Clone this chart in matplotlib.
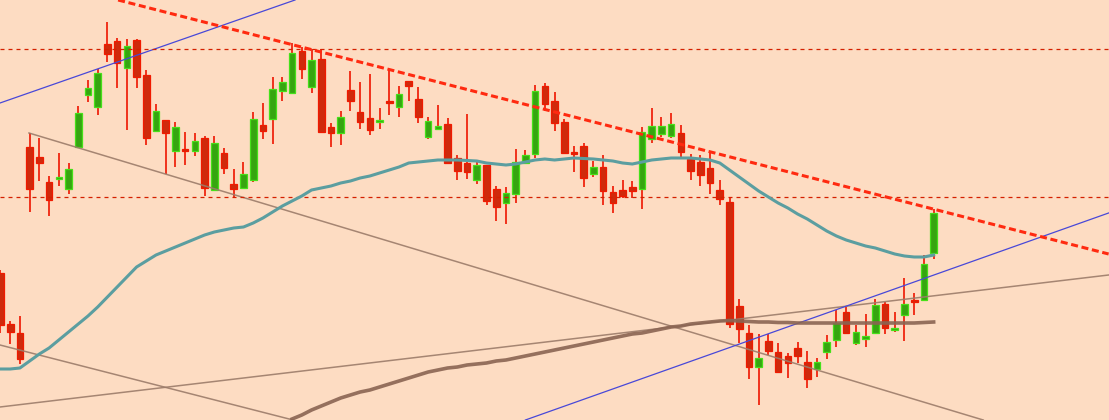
import numpy as np
import matplotlib
matplotlib.use("Agg")
import matplotlib.pyplot as plt

# candle prices (chart units)
opens = [147, 96, 87, 273, 263, 238, 241, 231, 273, 325, 313, 376, 379, 352, 380, 345, 289, 300, 269, 270,
         269, 282, 230, 267, 236, 232, 240, 295, 301, 329, 327, 369, 333, 361, 293, 287, 330, 308, 302, 298,
         318, 313, 339, 321, 283, 291, 296, 262, 257, 240, 255, 231, 217, 226, 257, 266, 334, 319, 298, 268,
         274, 246, 253, 228, 230, 233, 231, 281, 286, 284, 287, 261, 258, 252, 230, 218, 114, 87, 53, 79,
         68, 64, 72, 58, 51, 68, 80, 108, 77, 81, 87, 116, 90, 105, 120, 120, 167]
closes = [95, 88, 61, 231, 257, 220, 243, 251, 307, 332, 347, 366, 357, 374, 343, 282, 309, 287, 293, 269,
          279, 232, 277, 252, 231, 246, 301, 289, 331, 338, 367, 351, 360, 288, 287, 303, 319, 298, 290, 300,
          317, 326, 334, 303, 299, 294, 257, 249, 248, 255, 219, 213, 227, 258, 265, 329, 316, 297, 267, 266,
          242, 253, 229, 217, 224, 229, 288, 294, 294, 296, 268, 249, 245, 237, 221, 96, 91, 53, 62, 69,
          48, 57, 64, 41, 58, 78, 97, 87, 88, 84, 115, 92, 92, 116, 118, 156, 207]
highs = [150, 99, 104, 287, 282, 244, 267, 257, 314, 340, 351, 398, 382, 381, 381, 350, 316, 300, 298, 288,
         287, 284, 284, 272, 251, 258, 308, 317, 343, 343, 377, 373, 371, 371, 297, 309, 349, 338, 346, 312,
         351, 334, 339, 333, 303, 315, 302, 265, 306, 258, 255, 234, 233, 271, 270, 335, 337, 328, 301, 274,
         277, 259, 265, 234, 240, 239, 293, 312, 303, 307, 295, 266, 265, 268, 240, 223, 121, 95, 86, 86,
         77, 67, 78, 69, 62, 85, 110, 113, 95, 106, 121, 118, 108, 142, 127, 165, 211]
lows = [87, 76, 56, 208, 239, 204, 234, 226, 272, 318, 305, 358, 332, 290, 332, 275, 289, 246, 253, 255,
        264, 224, 229, 246, 223, 231, 238, 281, 276, 319, 326, 341, 327, 287, 273, 275, 309, 291, 285, 291,
        305, 303, 319, 297, 281, 290, 256, 240, 241, 236, 215, 199, 196, 217, 256, 262, 309, 289, 267, 248,
        233, 243, 215, 207, 222, 222, 211, 277, 283, 282, 263, 240, 234, 226, 215, 92, 77, 41, 15, 65,
        48, 42, 57, 32, 43, 61, 73, 86, 75, 73, 86, 86, 88, 79, 105, 120, 161]

# fast moving average (teal), one value per candle
ma_fast = [51, 51, 52, 59, 66, 72, 80, 88, 96, 104, 113, 123, 133, 143, 153, 159, 165, 169, 173, 177,
           181, 185, 188, 190, 192, 193, 197, 202, 208, 214, 219, 224, 230, 232, 234, 237, 239, 242, 244, 247,
           250, 253, 257, 258, 259, 260, 260, 260, 259.5, 259, 257, 256, 255, 256, 258, 260, 261, 260, 261, 262,
           261.5, 261, 260, 259, 257, 256, 258, 260, 261, 262, 262, 262, 261, 260, 257, 250, 243, 236, 229, 223,
           217, 212, 206, 201, 195, 189, 184, 180, 177, 174, 172, 169, 166, 164, 163, 163, 165]

# slow moving average (brown), starts at candle 30
ma_slow_start = 30
ma_slow = [1, 5, 10, 14, 18, 22, 25, 28, 30, 33, 36, 39, 42, 45, 48, 50, 52, 53, 55, 56,
           57, 59, 60, 62, 64, 66, 68, 70, 72, 74, 76, 78, 80, 82, 84, 86, 87, 89, 91, 93,
           94, 96, 97, 98, 99, 99.5, 99, 98.5, 98, 98, 97.5, 97.5, 97, 97, 97, 97, 97, 97, 97, 97,
           97, 97, 97, 97, 97, 97.5, 98]

# horizontal levels and trend lines (index, price pairs)
levels = [371, 223]
resistance = [(12.1, 420), (114.0, 166)]
channel_up_top = [(-0.05, 317), (30.3, 420)]
channel_up_bottom = [(54.0, 0), (114.0, 207)]
down_upper = [(2.93, 287), (101.1, 0)]
down_lower = [(-0.05, 75), (30.1, 0)]
rising = [(-0.05, 13), (114.0, 145)]

bg = '#fddcc2'
fig = plt.figure(figsize=(11.09, 4.2), dpi=100, facecolor=bg)
ax = fig.add_axes([0, 0, 1, 1])
ax.set_facecolor(bg)

x = np.arange(len(opens))
o = np.array(opens, dtype=float)
c = np.array(closes, dtype=float)
up = c >= o
bottoms = np.minimum(o, c)
heights = np.maximum(np.abs(c - o), 2.0)

ax.vlines(x, lows, highs, color='#ee1500', linewidth=1.2, zorder=2)
ax.bar(x[up], heights[up], bottom=bottoms[up], width=0.68,
       color='#36a510', edgecolor='#46e01a', linewidth=0.9, zorder=3)
ax.bar(x[~up], heights[~up], bottom=bottoms[~up], width=0.68,
       color='#cf2a0c', edgecolor='#f01a00', linewidth=0.9, zorder=3)


def seg(pts, **kw):
    (x0, y0), (x1, y1) = pts
    ax.plot([x0, x1], [y0, y1], **kw)


thin_gray = dict(color='#9c7c6a', linewidth=1.1, alpha=0.9, zorder=4)
seg(down_upper, **thin_gray)
seg(down_lower, **thin_gray)
seg(rising, **thin_gray)

seg(channel_up_top, color='#4848d8', linewidth=0.9, zorder=4)
seg(channel_up_bottom, color='#4848d8', linewidth=0.9, zorder=4)

ax.plot(x, ma_fast, color='#5b9ea0', linewidth=2.2, zorder=5)
xs = np.arange(ma_slow_start, ma_slow_start + len(ma_slow))
ax.plot(xs, ma_slow, color='#8a6452', linewidth=2.6, alpha=0.9, zorder=5)

for lv in levels:
    ax.axhline(lv, color='#d42000', linewidth=0.9, dashes=(3.2, 3.2), zorder=4)

seg(resistance, color='#ff2a10', linewidth=2.2, dashes=(2.3, 1.2), zorder=6)

ax.set_xlim(-0.05, 114.04)
ax.set_ylim(0, 420)
ax.axis('off')

fig.savefig('out.png', dpi=100, facecolor=bg)
